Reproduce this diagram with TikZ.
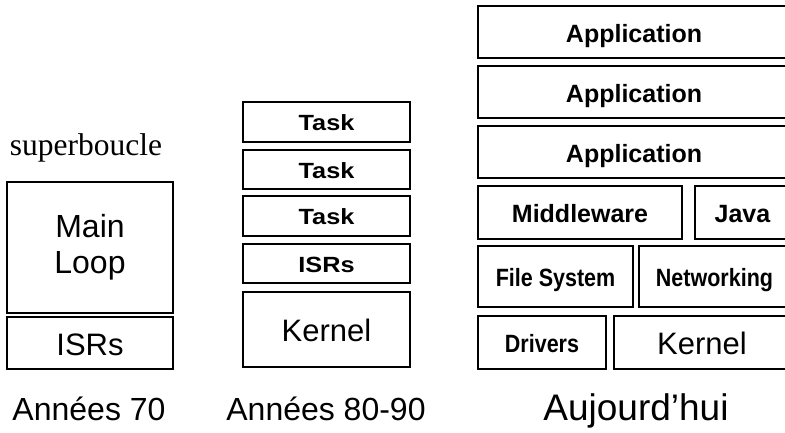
\documentclass[tikz,border=0pt]{standalone}
\usepackage{fontspec}
\setmainfont{Liberation Sans}
\newfontfamily\serifont{Liberation Serif}
\newfontfamily\narrowfont{Liberation Sans}[FakeStretch=0.86]
\newfontfamily\widefont{Liberation Sans}[FakeStretch=1.15]
\begin{document}
\begin{tikzpicture}[x=1pt,y=-1pt,
  box/.style={draw=black, line width=1.5pt, inner sep=0pt, align=center},
  big/.style={text height=24.3pt, text depth=0pt, font=\fontsize{31}{36}\selectfont},
  bigger/.style={font=\fontsize{32}{36}\selectfont},
  taskf/.style={text height=17.8pt, text depth=0pt, font=\widefont\bfseries\fontsize{22}{24}\selectfont},
  appf/.style={text height=20pt, text depth=0pt, font=\bfseries\fontsize{25}{28}\selectfont},
  narf/.style={text height=20pt, text depth=0pt, font=\narrowfont\bfseries\fontsize{25}{28}\selectfont},
  lab/.style={inner sep=0pt, anchor=base, font=\fontsize{32}{36}\selectfont}
]
\useasboundingbox (0,0) rectangle (785,432);
\clip (0,0) rectangle (785,432);
\newcommand\bx[7]{\node[box,#7,minimum width={#4-#2},minimum height={#5-#3}] (#1) at ({(#2+#4)/2},{(#3+#5)/2}) {#6};}
% Années 70
\bx{ml}{7}{182}{173}{313}{Main\\Loop}{bigger}
\bx{isra}{7}{317}{173}{369}{ISRs}{big}
% Années 80-90
\bx{ta}{243}{102}{410}{142}{Task}{taskf}
\bx{tb}{243}{150}{410}{189}{Task}{taskf}
\bx{tc}{243}{196}{410}{236}{Task}{taskf}
\bx{isrb}{243}{244}{410}{283}{ISRs}{taskf}
\bx{ka}{243}{292}{410}{367}{Kernel}{big}
% Aujourd'hui
\bx{apa}{478}{6}{790}{58}{Application}{appf}
\bx{apb}{478}{66}{790}{118}{Application}{appf}
\bx{apc}{478}{126}{790}{178}{Application}{appf}
\bx{mw}{478}{186}{682}{239}{Middleware}{appf}
\bx{java}{695}{186}{790}{239}{Java}{appf}
\bx{fs}{478}{246}{633}{307}{File System}{narf}
\bx{net}{639}{246}{790}{307}{Networking}{narf}
\bx{drv}{478}{316}{606}{369}{Drivers}{narf}
\bx{kb}{614}{316}{790}{369}{Kernel}{big}
% labels
\node[inner sep=0pt, anchor=base, font=\serifont\fontsize{31.5}{34}\selectfont] (sb) at (86,155) {superboucle};
\node[lab] (l70) at (89,420) {Années 70};
\node[lab] (l80) at (326,420) {Années 80-90};
\node[lab, font=\fontsize{37}{40}\selectfont] (lauj) at (636,420) {Aujourd’hui};
\end{tikzpicture}
\end{document}
